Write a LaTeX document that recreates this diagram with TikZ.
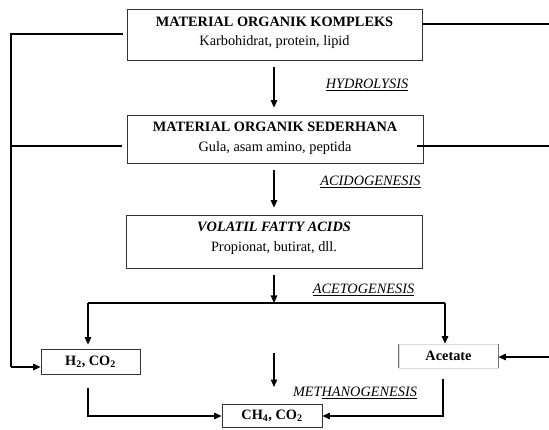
\documentclass[tikz,border=0pt]{standalone}
\usepackage{fontspec}
\setmainfont{Liberation Serif}
\usetikzlibrary{arrows.meta}
\newcommand\myfs{\fontsize{14.3pt}{17pt}\selectfont}
\begin{document}
\begin{tikzpicture}[x=1pt,y=-1pt,
  boxr/.style={draw=black!80, line width=0.8pt, inner sep=0pt},
  txt/.style={font=\myfs, inner sep=0pt},
  conn/.style={line width=1.2pt},
  arr/.style={line width=1.2pt, -{Triangle[length=7.5pt,width=6.5pt]}},
  lbl/.style={font=\myfs\itshape, inner sep=0pt}]
\useasboundingbox (0,0) rectangle (549,430);
% main boxes
\node[boxr, minimum width=295pt, minimum height=51pt] (b1) at (274.5,34.5) {};
\node[txt] (b1t) at (274.5,21.5) {\textbf{MATERIAL ORGANIK KOMPLEKS}};
\node[txt] (b1s) at (274.5,42.5) {Karbohidrat, protein, lipid};
\node[boxr, minimum width=296pt, minimum height=48pt] (b2) at (275,139) {};
\node[txt] (b2t) at (275,127) {\textbf{MATERIAL ORGANIK SEDERHANA}};
\node[txt] (b2s) at (275,148) {Gula, asam amino, peptida};
\node[boxr, minimum width=296pt, minimum height=53pt] (b3) at (274,241.5) {};
\node[txt] (b3t) at (274,227) {\textbf{\textit{VOLATIL FATTY ACIDS}}};
\node[txt] (b3s) at (274,248) {Propionat, butirat, dll.};
% small boxes
\node[boxr, minimum width=99pt, minimum height=25pt, font=\myfs\bfseries] (h2) at (90.5,361.5) {H\textsubscript{2}, CO\textsubscript{2}};
\node[draw=black!15, line width=0.8pt, inner sep=0pt, minimum width=99pt, minimum height=24pt, font=\myfs\bfseries] (ac) at (448.5,356) {Acetate};
\draw[black!55, line width=0.8pt] (ac.north west) -- (ac.south west) (ac.north east) -- (ac.south east);
\node[boxr, minimum width=100pt, minimum height=23pt, font=\myfs\bfseries] (ch) at (272,415.5) {CH\textsubscript{4}, CO\textsubscript{2}};
% labels
\node[lbl] (l1) at (367,85) {\underline{HYDROLYSIS}};
\node[lbl] (l2) at (370.5,182) {\underline{ACIDOGENESIS}};
\node[lbl] (l3) at (363.5,290) {\underline{ACETOGENESIS}};
\node[lbl] (l4) at (355,392.5) {MET\underline{HANOGENESIS}};
% coordinates
\coordinate (sc) at (274,303);
\coordinate (sl) at (88,303);
\coordinate (sr) at (445,303);
\coordinate (fl1) at (11,34);
\coordinate (fl2) at (11,367);
\coordinate (fl3) at (11,146);
\coordinate (fr1) at (549,24);
\coordinate (fr2) at (549,146);
\coordinate (fr3) at (549,357);
\coordinate (m1) at (274,353);
\coordinate (m2) at (274,387);
\coordinate (hb) at (88,388);
\coordinate (hc) at (88,416);
\coordinate (ab) at (443,379);
\coordinate (acn) at (443,416);
% main arrows
\draw[arr] ([yshift=-7pt]b1.south -| sc) -- ([yshift=7pt]b2.north -| sc);
\draw[arr] ([yshift=-7pt]b2.south -| sc) -- ([yshift=7pt]b3.north -| sc);
\draw[arr] ([yshift=-7pt]b3.south -| sc) -- (sc);
\draw[conn] (sl) -- (sr);
\draw[arr] (sl) -- ([yshift=4pt]h2.north -| sl);
\draw[arr] (sr) -- (ac.north -| sr);
\draw[arr] (m1) -- (m2);
\draw[arr] (hb) -- (hc) -- (ch.west |- hc);
\draw[arr] (ab) -- (acn) -- (ch.east |- acn);
% feedback lines
\draw[conn] ([xshift=-4pt]b1.west |- fl1) -- (fl1) -- (fl2);
\draw[arr] (fl2) -- (h2.west |- fl2);
\draw[conn] (fl3) -- ([xshift=-5pt]b2.west |- fl3);
\draw[conn] ([xshift=1pt]b1.east |- fr1) -- (fr1);
\draw[conn] ([xshift=-6pt]b2.east |- fr2) -- (fr2);
\draw[arr] (fr3) -- (ac.east |- fr3);
\end{tikzpicture}
\end{document}
